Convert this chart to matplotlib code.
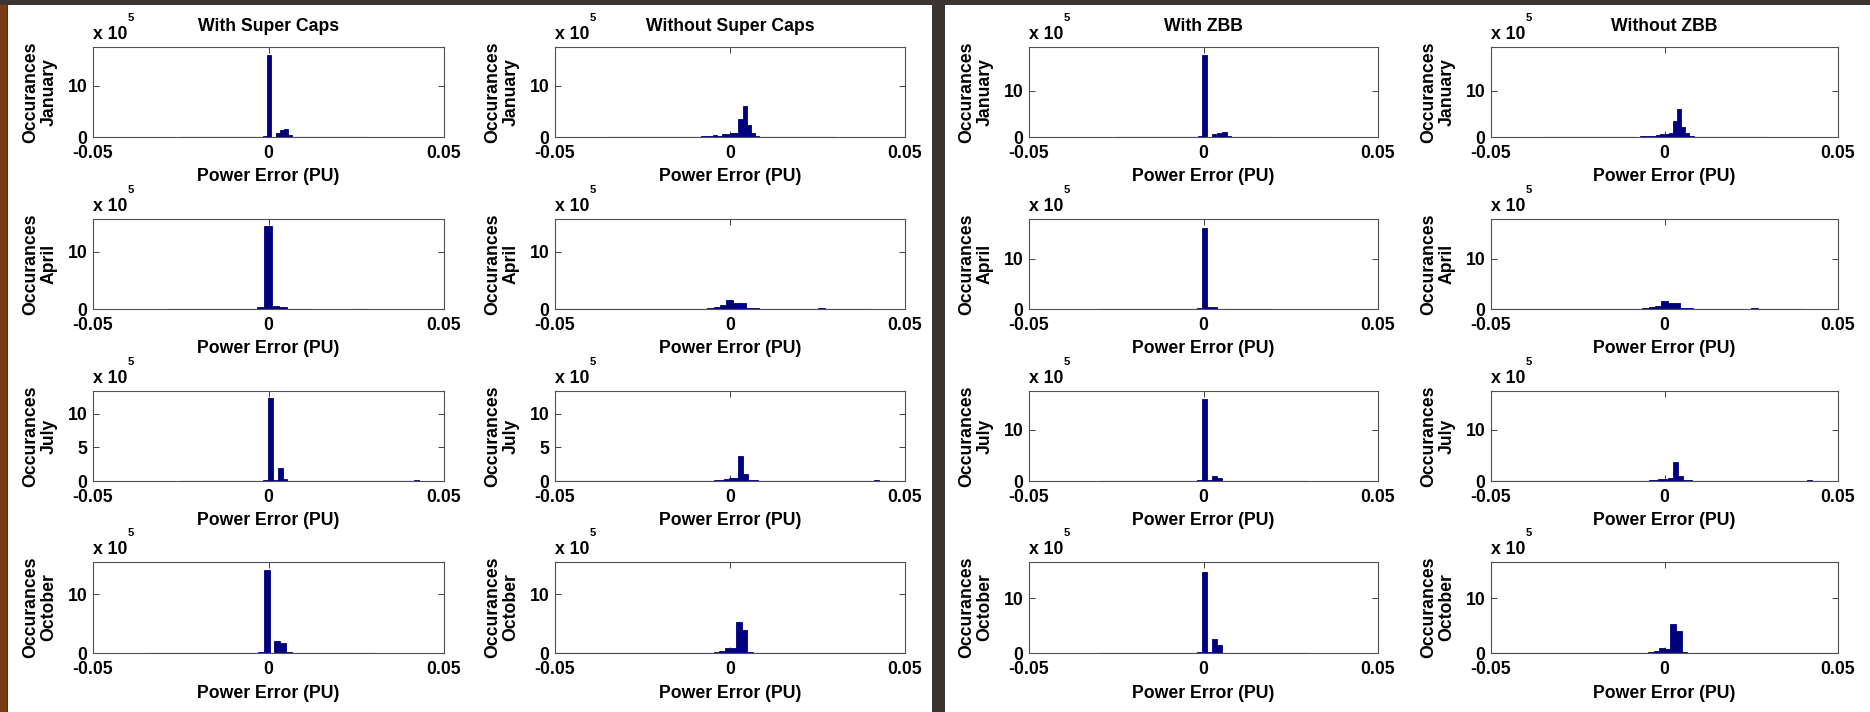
import matplotlib
matplotlib.use("Agg")
import matplotlib.pyplot as plt
from matplotlib.patches import Rectangle

plt.rcParams['font.family'] = ['Liberation Sans', 'DejaVu Sans']
plt.rcParams['font.weight'] = 'bold'
plt.rcParams['axes.labelweight'] = 'bold'

# histogram bins: centres in PU, counts in units of 1e5
months = ['January', 'April', 'July', 'October']
titles = ['With Super Caps', 'Without Super Caps', 'With ZBB', 'Without ZBB']

# -- with super caps
jan_sc_x = [-0.001, 0.0002, 0.0026, 0.0038, 0.005, 0.0062]
jan_sc_h = [0.13, 15.9, 0.77, 1.3, 1.55, 0.45]
apr_sc_x = [-0.0022, -0.0001, 0.002, 0.0041]
apr_sc_h = [0.3, 14.5, 0.46, 0.3]
jul_sc_x = [-0.0009, 0.0006, 0.0019, 0.0033, 0.0047, 0.0422]
jul_sc_h = [0.12, 12.3, 0.1, 2.0, 0.35, 0.15]
oct_sc_x = [-0.002, -0.0003, 0.0024, 0.0041, 0.0058]
oct_sc_h = [0.2, 14.1, 2.1, 1.75, 0.1]

# -- without storage (same runs for both studies)
jan_no_x = [-0.0078, -0.0066, -0.0054, -0.0042, -0.003, -0.0018, -0.0006,
            0.0006, 0.0018, 0.003, 0.0042, 0.0054, 0.0066, 0.0078]
jan_no_h = [0.1, 0.12, 0.15, 0.3, 0.25, 0.5, 0.6, 0.7, 0.8, 3.5, 6.06, 2.26, 0.77, 0.25]
apr_no_x = [-0.0055, -0.0036, -0.0018, -0.0001, 0.0018, 0.0036, 0.0055, 0.0073, 0.026]
apr_no_h = [0.12, 0.3, 0.64, 1.64, 1.1, 1.1, 0.18, 0.12, 0.23]
jul_no_x = [-0.0039, -0.0025, -0.0011, 0.0003, 0.0017, 0.0031, 0.0045, 0.0059, 0.0073, 0.0418]
jul_no_h = [0.15, 0.2, 0.3, 0.4, 0.5, 3.73, 1.0, 0.12, 0.1, 0.15]
oct_no_x = [-0.0039, -0.0023, -0.0007, 0.0009, 0.0025, 0.0041, 0.0057]
oct_no_h = [0.2, 0.4, 0.9, 0.8, 5.25, 3.95, 0.2]

# -- with ZBB
jan_zbb_x = [-0.001, 0.0004, 0.0017, 0.003, 0.0045, 0.0059, 0.0071]
jan_zbb_h = [0.15, 17.7, 0.1, 0.57, 0.93, 1.14, 0.2]
apr_zbb_x = [-0.0011, 0.0003, 0.0017, 0.0031]
apr_zbb_h = [0.2, 16.1, 0.4, 0.3]
jul_zbb_x = [-0.0011, 0.0003, 0.0017, 0.0031, 0.0045]
jul_zbb_h = [0.1, 15.9, 0.1, 0.9, 0.6]
oct_zbb_x = [-0.0011, 0.0003, 0.0017, 0.0031, 0.0045]
oct_zbb_h = [0.2, 14.7, 0.2, 2.5, 1.5]

# bin widths (PU) per month
sc_width = [0.0012, 0.0021, 0.0014, 0.0017]
no_width = [0.0012, 0.002, 0.0014, 0.0016]
zbb_width = [0.0014, 0.0014, 0.0014, 0.0014]

# ranges with only a few scattered counts
sc_tails = [[(-0.025, -0.0016), (0.007, 0.028)],
            [(-0.029, -0.0033), (0.005, 0.012), (0.024, 0.028)],
            [(-0.025, -0.0016), (0.0054, 0.043)],
            [(-0.035, -0.003), (0.005, 0.03)]]
no_tails = [[(-0.035, -0.0084), (0.0084, 0.03)],
            [(-0.05, -0.0065), (0.008, 0.04)],
            [(-0.05, -0.0046), (0.008, 0.045)],
            [(-0.05, -0.0047), (0.0065, 0.05)]]
zbb_tails = [[(-0.025, -0.0017), (0.0077, 0.02)],
             [(-0.03, -0.0018), (0.004, 0.02)],
             [(-0.03, -0.0018), (0.0052, 0.03)],
             [(-0.03, -0.0018), (0.0052, 0.03)]]

sc_ylim = [17.5, 15.7, 13.4, 15.5]
zbb_ylim = [19.4, 17.9, 17.5, 16.6]

sc_data = [(jan_sc_x, jan_sc_h), (apr_sc_x, apr_sc_h), (jul_sc_x, jul_sc_h), (oct_sc_x, oct_sc_h)]
no_data = [(jan_no_x, jan_no_h), (apr_no_x, apr_no_h), (jul_no_x, jul_no_h), (oct_no_x, oct_no_h)]
zbb_data = [(jan_zbb_x, jan_zbb_h), (apr_zbb_x, apr_zbb_h), (jul_zbb_x, jul_zbb_h), (oct_zbb_x, oct_zbb_h)]

BLUE = '#00007f'
W, H = 1870, 712
FS = 12.7

fig = plt.figure(figsize=(W / 100, H / 100), dpi=100, facecolor='#3b3531')

# two white sheets on a dark backdrop
fig.add_artist(Rectangle((8 / W, 0), (932 - 8) / W, (H - 5) / H, transform=fig.transFigure,
                         facecolor='white', edgecolor='none', zorder=-2))
fig.add_artist(Rectangle((945 / W, 0), (W - 945) / W, (H - 5) / H, transform=fig.transFigure,
                         facecolor='white', edgecolor='none', zorder=-2))
fig.add_artist(Rectangle((0, 0), 7 / W, (H - 5) / H, transform=fig.transFigure,
                         facecolor='#7a3c14', edgecolor='none', zorder=-2))

col_left = [93, 555, 1029, 1491]
col_width = [351, 350, 349, 347]
row_top = [47, 219, 391, 562]
row_height = [90, 90, 90, 91]


def px_axes(left, top, width, height):
    return fig.add_axes([left / W, 1 - (top + height) / H, width / W, height / H])


def draw_panel(ax, x, h, width, tails, ymax, month, title, axw):
    ax.bar(x, h, width=width, color=BLUE, edgecolor=BLUE, linewidth=0.6, zorder=2)
    for a, b in tails:
        ax.hlines(0.04, a, b, color=BLUE, lw=0.9, alpha=0.45, zorder=1)
    ax.set_xlim(-0.05, 0.05)
    ax.set_ylim(0, ymax)
    ax.set_xticks([-0.05, 0, 0.05])
    ax.set_xticklabels(['-0.05', '0', '0.05'])
    yt = [0, 5, 10] if ymax < 14 else [0, 10]
    ax.set_yticks(yt)
    ax.set_yticklabels([str(v) for v in yt])
    ax.tick_params(direction='in', length=4, width=0.7, top=True, right=True,
                   labelsize=FS, colors='#404040', labelcolor='black')
    ax.tick_params(axis='x', pad=6)
    ax.tick_params(axis='y', pad=4)
    for s in ax.spines.values():
        s.set_color('#505050')
        s.set_linewidth(0.8)
    ax.set_ylabel('Occurances\n' + month, fontsize=FS, fontweight='bold', linespacing=1.1)
    ax.yaxis.set_label_coords(-53 / axw, 0.5)
    ax.yaxis.label.set_va('center')
    ax.set_xlabel('Power Error (PU)', fontsize=FS, fontweight='bold')
    ax.xaxis.set_label_coords(0.5, -0.44)
    ax.xaxis.label.set_va('center')
    ax.text(0.0, 1.14, 'x 10', transform=ax.transAxes, ha='left', va='center', fontsize=FS)
    ax.text(0.108, 1.32, '5', transform=ax.transAxes, ha='center', va='center', fontsize=8)
    if title:
        ax.text(0.5, 1.23, title, transform=ax.transAxes, ha='center', va='center', fontsize=FS)


for r, month in enumerate(months):
    panels = [(sc_data[r], sc_width[r], sc_tails[r], sc_ylim[r]),
              (no_data[r], no_width[r], no_tails[r], sc_ylim[r]),
              (zbb_data[r], zbb_width[r], zbb_tails[r], zbb_ylim[r]),
              (no_data[r], no_width[r], no_tails[r], zbb_ylim[r])]
    for c, ((x, h), w, tails, ymax) in enumerate(panels):
        ax = px_axes(col_left[c], row_top[r], col_width[c], row_height[r])
        draw_panel(ax, x, h, w, tails, ymax, month, titles[c] if r == 0 else None, col_width[c])

fig.savefig('out.png', dpi=100, facecolor=fig.get_facecolor())
